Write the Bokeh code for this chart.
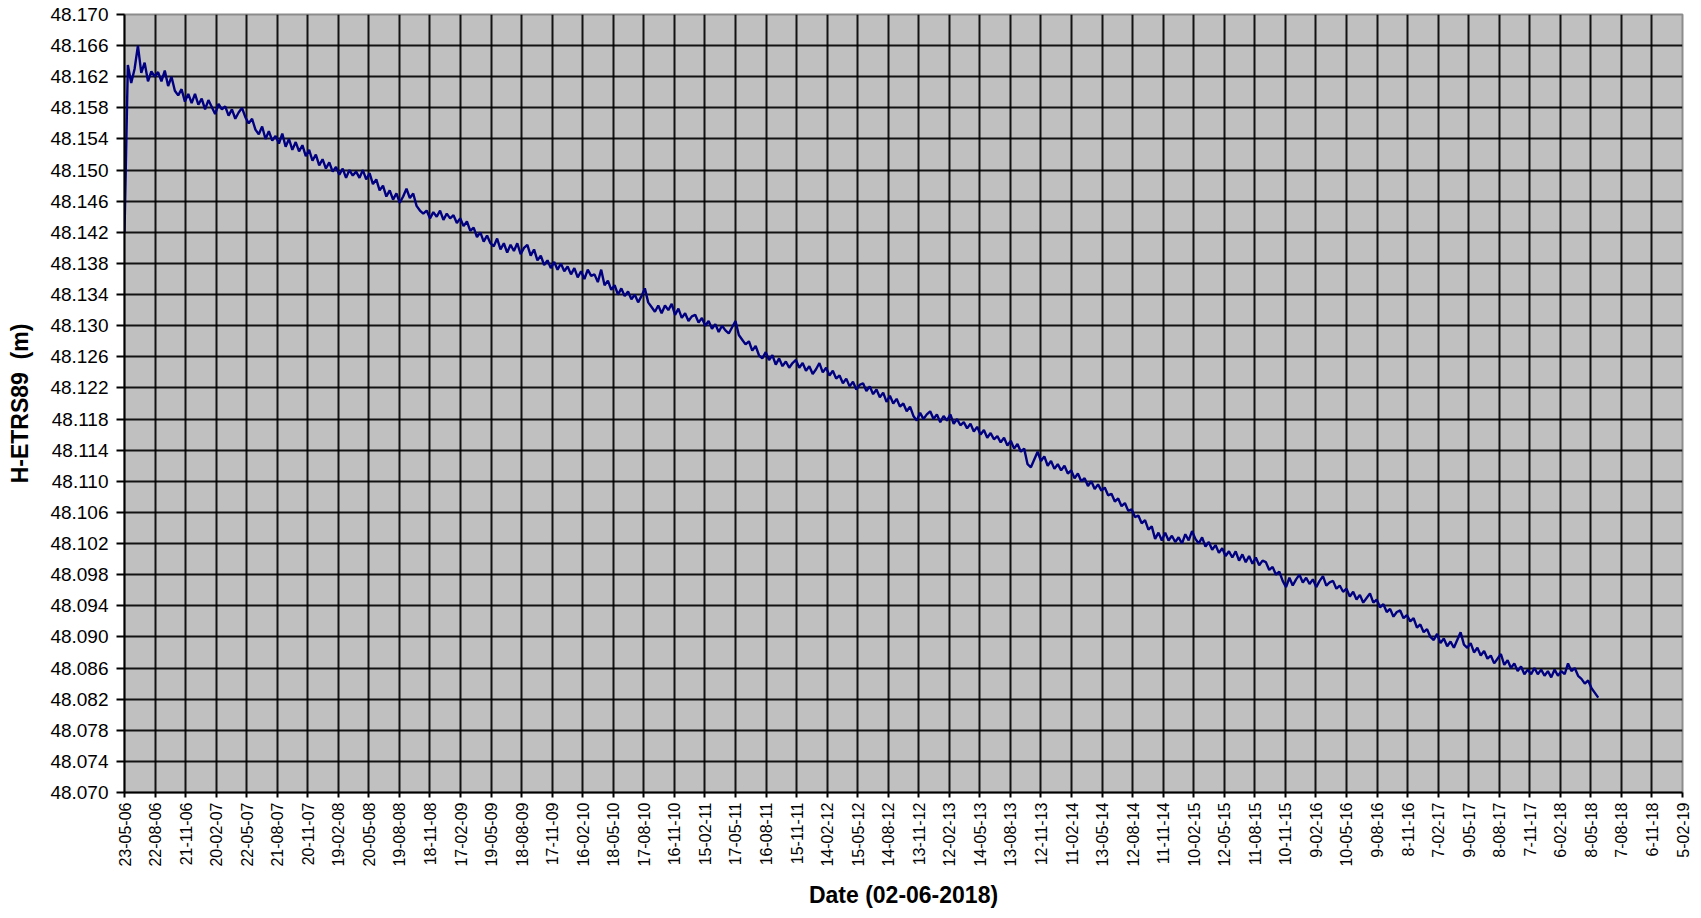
import math
import numpy as np
import pandas as pd
from bokeh.plotting import figure
from bokeh.models import Range1d, FixedTicker, NumeralTickFormatter
from bokeh.embed import file_html
from bokeh.resources import INLINE

# ---- data -------------------------------------------------------------
start_date = "2006-05-23"       # first observation
sample_step_days = 10           # one value every 10 days

h_etrs89 = [
    48.1420, 48.1635, 48.1612, 48.1630, 48.1660, 48.1625, 48.1638, 48.1614, 48.1627, 48.1620,
    48.1626, 48.1614, 48.1628, 48.1608, 48.1620, 48.1602, 48.1596, 48.1604, 48.1588, 48.1598,
    48.1586, 48.1598, 48.1584, 48.1592, 48.1578, 48.1590, 48.1581, 48.1572, 48.1585, 48.1578,
    48.1582, 48.1570, 48.1578, 48.1566, 48.1574, 48.1580, 48.1568, 48.1560, 48.1566, 48.1552,
    48.1546, 48.1556, 48.1540, 48.1550, 48.1538, 48.1544, 48.1534, 48.1547, 48.1530, 48.1540,
    48.1526, 48.1536, 48.1524, 48.1532, 48.1518, 48.1526, 48.1512, 48.1520, 48.1506, 48.1514,
    48.1502, 48.1510, 48.1498, 48.1504, 48.1494, 48.1502, 48.1490, 48.1500, 48.1493, 48.1498,
    48.1490, 48.1500, 48.1488, 48.1496, 48.1482, 48.1488, 48.1474, 48.1480, 48.1466, 48.1474,
    48.1462, 48.1470, 48.1458, 48.1466, 48.1476, 48.1464, 48.1470, 48.1454, 48.1448, 48.1444,
    48.1448, 48.1438, 48.1446, 48.1440, 48.1448, 48.1436, 48.1444, 48.1438, 48.1442, 48.1432,
    48.1438, 48.1428, 48.1434, 48.1422, 48.1426, 48.1414, 48.1420, 48.1408, 48.1416, 48.1406,
    48.1402, 48.1412, 48.1398, 48.1406, 48.1394, 48.1404, 48.1396, 48.1406, 48.1392, 48.1400,
    48.1404, 48.1390, 48.1398, 48.1384, 48.1390, 48.1378, 48.1384, 48.1374, 48.1382, 48.1372,
    48.1380, 48.1370, 48.1376, 48.1366, 48.1374, 48.1362, 48.1370, 48.1360, 48.1372, 48.1364,
    48.1366, 48.1356, 48.1372, 48.1352, 48.1358, 48.1346, 48.1352, 48.1340, 48.1348, 48.1338,
    48.1344, 48.1334, 48.1340, 48.1330, 48.1338, 48.1348, 48.1330, 48.1324, 48.1318, 48.1326,
    48.1316, 48.1326, 48.1320, 48.1328, 48.1314, 48.1322, 48.1310, 48.1316, 48.1306, 48.1312,
    48.1314, 48.1304, 48.1310, 48.1300, 48.1306, 48.1296, 48.1302, 48.1292, 48.1300, 48.1294,
    48.1290, 48.1298, 48.1306, 48.1288, 48.1282, 48.1276, 48.1280, 48.1268, 48.1274, 48.1262,
    48.1258, 48.1266, 48.1256, 48.1262, 48.1250, 48.1258, 48.1248, 48.1254, 48.1246, 48.1252,
    48.1256, 48.1246, 48.1252, 48.1242, 48.1248, 48.1238, 48.1244, 48.1252, 48.1240, 48.1246,
    48.1236, 48.1242, 48.1232, 48.1236, 48.1226, 48.1232, 48.1222, 48.1228, 48.1218, 48.1224,
    48.1226, 48.1216, 48.1222, 48.1212, 48.1218, 48.1208, 48.1214, 48.1202, 48.1210, 48.1200,
    48.1206, 48.1196, 48.1200, 48.1190, 48.1196, 48.1184, 48.1178, 48.1188, 48.1180, 48.1186,
    48.1190, 48.1180, 48.1186, 48.1176, 48.1184, 48.1178, 48.1186, 48.1174, 48.1180, 48.1172,
    48.1176, 48.1168, 48.1174, 48.1164, 48.1170, 48.1160, 48.1166, 48.1156, 48.1162, 48.1154,
    48.1158, 48.1150, 48.1156, 48.1146, 48.1152, 48.1142, 48.1148, 48.1138, 48.1142, 48.1122,
    48.1118, 48.1128, 48.1138, 48.1126, 48.1132, 48.1120, 48.1126, 48.1116, 48.1122, 48.1114,
    48.1120, 48.1110, 48.1114, 48.1104, 48.1110, 48.1100, 48.1104, 48.1094, 48.1100, 48.1090,
    48.1096, 48.1088, 48.1092, 48.1082, 48.1084, 48.1074, 48.1078, 48.1068, 48.1072, 48.1062,
    48.1064, 48.1054, 48.1056, 48.1046, 48.1050, 48.1038, 48.1042, 48.1026, 48.1034, 48.1024,
    48.1034, 48.1024, 48.1030, 48.1022, 48.1028, 48.1020, 48.1032, 48.1024, 48.1036, 48.1026,
    48.1020, 48.1028, 48.1016, 48.1022, 48.1012, 48.1018, 48.1008, 48.1014, 48.1004, 48.1010,
    48.1002, 48.1010, 48.0998, 48.1006, 48.0996, 48.1004, 48.0994, 48.1002, 48.0992, 48.0998,
    48.0996, 48.0986, 48.0990, 48.0980, 48.0984, 48.0972, 48.0964, 48.0976, 48.0966, 48.0974,
    48.0980, 48.0970, 48.0976, 48.0968, 48.0974, 48.0964, 48.0972, 48.0978, 48.0966, 48.0970,
    48.0972, 48.0962, 48.0966, 48.0958, 48.0962, 48.0952, 48.0958, 48.0948, 48.0954, 48.0944,
    48.0950, 48.0956, 48.0944, 48.0948, 48.0938, 48.0942, 48.0932, 48.0936, 48.0926, 48.0932,
    48.0934, 48.0924, 48.0928, 48.0920, 48.0924, 48.0912, 48.0916, 48.0906, 48.0910, 48.0900,
    48.0896, 48.0904, 48.0892, 48.0898, 48.0888, 48.0894, 48.0886, 48.0896, 48.0906, 48.0890,
    48.0886, 48.0892, 48.0880, 48.0886, 48.0876, 48.0882, 48.0872, 48.0876, 48.0866, 48.0872,
    48.0878, 48.0864, 48.0870, 48.0860, 48.0866, 48.0856, 48.0862, 48.0852, 48.0858, 48.0852,
    48.0860, 48.0852, 48.0858, 48.0850, 48.0856, 48.0848, 48.0858, 48.0850, 48.0856, 48.0852,
    48.0866, 48.0856, 48.0860, 48.0850, 48.0846, 48.0840, 48.0844, 48.0834, 48.0828, 48.0822,
]

x_tick_labels = [
    "23-05-06", "22-08-06", "21-11-06", "20-02-07", "22-05-07", "21-08-07", "20-11-07",
    "19-02-08", "20-05-08", "19-08-08", "18-11-08", "17-02-09", "19-05-09", "18-08-09",
    "17-11-09", "16-02-10", "18-05-10", "17-08-10", "16-11-10", "15-02-11", "17-05-11",
    "16-08-11", "15-11-11", "14-02-12", "15-05-12", "14-08-12", "13-11-12", "12-02-13",
    "14-05-13", "13-08-13", "12-11-13", "11-02-14", "13-05-14", "12-08-14", "11-11-14",
    "10-02-15", "12-05-15", "11-08-15", "10-11-15", "9-02-16", "10-05-16", "9-08-16",
    "8-11-16", "7-02-17", "9-05-17", "8-08-17", "7-11-17", "6-02-18", "8-05-18",
    "7-08-18", "6-11-18", "5-02-19",
]

y_ticks = [48.070, 48.074, 48.078, 48.082, 48.086, 48.090, 48.094, 48.098, 48.102,
           48.106, 48.110, 48.114, 48.118, 48.122, 48.126, 48.130, 48.134, 48.138,
           48.142, 48.146, 48.150, 48.154, 48.158, 48.162, 48.166, 48.170]

# ---- positions (days since start) --------------------------------------
t0 = pd.Timestamp(start_date)
x_days = np.arange(len(h_etrs89)) * sample_step_days
tick_dates = pd.to_datetime(x_tick_labels, format="%d-%m-%y")
tick_days = [float((d - t0).days) for d in tick_dates]

# ---- figure -------------------------------------------------------------
FONT = "Liberation Sans"
p = figure(width=1690, height=910, output_backend="svg", toolbar_location=None,
           x_range=Range1d(tick_days[0], tick_days[-1]),
           y_range=Range1d(y_ticks[0], y_ticks[-1]),
           min_border_left=124, min_border_right=8, min_border_top=14,
           min_border_bottom=109)

p.background_fill_color = "#C0C0C0"
p.border_fill_color = "white"
p.outline_line_color = "#8c8c8c"
p.outline_line_width = 2

p.line(x_days, h_etrs89, line_color="#000080", line_width=2.4)

# x axis
p.xaxis.ticker = FixedTicker(ticks=tick_days)
p.xaxis.major_label_overrides = {tv: lab for tv, lab in zip(tick_days, x_tick_labels)}
p.xaxis.major_label_orientation = math.pi / 2
p.xaxis.axis_label = "Date (02-06-2018)"
p.xaxis.minor_tick_line_color = None

# y axis
p.yaxis.ticker = FixedTicker(ticks=y_ticks)
p.yaxis.formatter = NumeralTickFormatter(format="0.000")
p.yaxis.axis_label = "H-ETRS89\u00a0\u00a0(m)"
p.yaxis.minor_tick_line_color = None

for ax in (p.xaxis, p.yaxis):
    ax.axis_line_color = "black"
    ax.axis_line_width = 2
    ax.major_tick_line_color = "black"
    ax.major_tick_line_width = 2
    ax.major_tick_in = 0
    ax.major_label_text_font = FONT
    ax.major_label_text_color = "black"
    ax.axis_label_text_font = FONT
    ax.axis_label_text_font_style = "bold"
    ax.axis_label_text_color = "black"
    ax.axis_label_text_font_size = "23px"

p.xaxis.major_tick_out = 5
p.xaxis.major_label_standoff = 5
p.xaxis.major_label_text_font_size = "16px"
p.xaxis.axis_label_standoff = 12

p.yaxis.major_tick_out = 8
p.yaxis.major_label_standoff = 8
p.yaxis.major_label_text_font_size = "19px"
p.yaxis.axis_label_standoff = 14

p.grid.grid_line_color = "black"
p.grid.grid_line_width = 2
p.grid.grid_line_alpha = 0.9

open("out.html", "w").write(file_html(p, INLINE))
